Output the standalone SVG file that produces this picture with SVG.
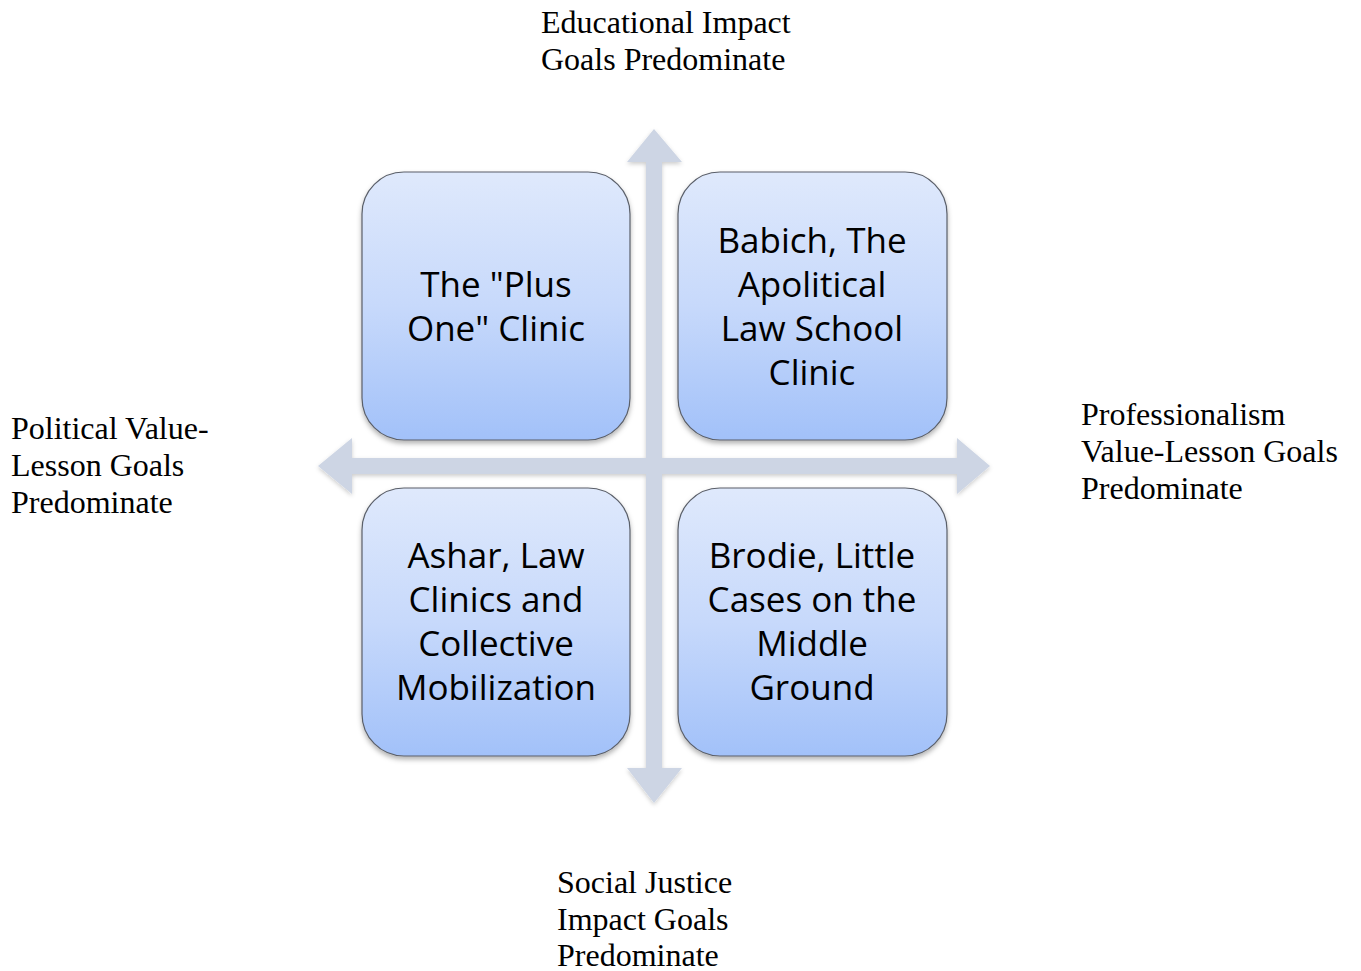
<svg xmlns="http://www.w3.org/2000/svg" width="1361" height="971" viewBox="0 0 1361 971">
<style>
.lbl{font-family:"Liberation Serif","Times New Roman",serif;font-size:32px;fill:#000}
.box{fill:url(#g);stroke:#5a5f69;stroke-width:1.2;filter:url(#sh)}
.bt{font-family:"Open Sans","Noto Sans",sans-serif;font-size:35px;fill:#000;text-anchor:middle}
</style>
<defs>
<linearGradient id="g" x1="0" y1="0" x2="0" y2="1">
<stop offset="0" stop-color="#dfe9fc"/>
<stop offset="0.5" stop-color="#c7d9fb"/>
<stop offset="1" stop-color="#a2c1f9"/>
</linearGradient>
<filter id="sh" x="-10%" y="-10%" width="120%" height="125%">
<feDropShadow dx="0" dy="3" stdDeviation="2.5" flood-color="#000" flood-opacity="0.3"/>
</filter>
<filter id="ash" x="-10%" y="-10%" width="120%" height="120%">
<feDropShadow dx="0" dy="2" stdDeviation="2" flood-color="#000" flood-opacity="0.2"/>
</filter>
</defs>
<g id="connectors">
<path d="M654,129 L682,162 L662,162 L662,458 L957,458 L957,438 L990,466 L957,494 L957,474 L662,474 L662,768 L682,768 L654,803 L627,768 L646,768 L646,474 L352,474 L352,494 L318,466 L352,438 L352,458 L646,458 L646,162 L627,162 Z" fill="#cdd5e4" filter="url(#ash)"/>
</g>
<g id="node-tl">
<rect class="box" x="362" y="172" width="268" height="268" rx="42"/>
<text class="bt" x="496" y="297">The "Plus</text>
<text class="bt" x="496" y="341">One" Clinic</text>
</g>
<g id="node-tr">
<rect class="box" x="678" y="172" width="269" height="268" rx="42"/>
<text class="bt" x="812" y="253">Babich, The</text>
<text class="bt" x="812" y="297">Apolitical</text>
<text class="bt" x="812" y="341">Law School</text>
<text class="bt" x="812" y="385">Clinic</text>
</g>
<g id="node-bl">
<rect class="box" x="362" y="488" width="268" height="268" rx="42"/>
<text class="bt" x="496" y="568">Ashar, Law</text>
<text class="bt" x="496" y="612">Clinics and</text>
<text class="bt" x="496" y="656">Collective</text>
<text class="bt" x="496" y="700">Mobilization</text>
</g>
<g id="node-br">
<rect class="box" x="678" y="488" width="269" height="268" rx="42"/>
<text class="bt" x="812" y="568">Brodie, Little</text>
<text class="bt" x="812" y="612">Cases on the</text>
<text class="bt" x="812" y="656">Middle</text>
<text class="bt" x="812" y="700">Ground</text>
</g>
<g id="label-top">
<text class="lbl" x="541" y="33">Educational Impact</text>
<text class="lbl" x="541" y="70">Goals Predominate</text>
</g>
<g id="label-left">
<text class="lbl" x="11" y="439">Political Value-</text>
<text class="lbl" x="11" y="476">Lesson Goals</text>
<text class="lbl" x="11" y="513">Predominate</text>
</g>
<g id="label-right">
<text class="lbl" x="1081" y="425">Professionalism</text>
<text class="lbl" x="1081" y="462">Value-Lesson Goals</text>
<text class="lbl" x="1081" y="499">Predominate</text>
</g>
<g id="label-bottom">
<text class="lbl" x="557" y="893">Social Justice</text>
<text class="lbl" x="557" y="930">Impact Goals</text>
<text class="lbl" x="557" y="966">Predominate</text>
</g>
</svg>
